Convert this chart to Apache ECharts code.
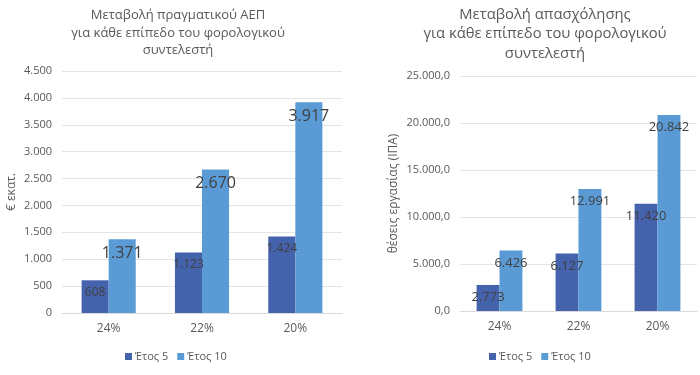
<!DOCTYPE html>
<html>
<head>
<meta charset="utf-8">
<script src="https://cdn.jsdelivr.net/npm/echarts@6/dist/echarts.min.js"></script>
<style>
  html, body { margin: 0; padding: 0; background: #fff; }
  #chart { width: 700px; height: 375px; }
</style>
</head>
<body>
<div id="chart"></div>
<script>
// data
const categories = ["24%", "22%", "20%"];
const seriesNames = ["Έτος 5", "Έτος 10"];
const gdpYear5 = [608, 1123, 1424];
const gdpYear10 = [1371, 2670, 3917];
const jobsYear5 = [2773, 6127, 11420];
const jobsYear10 = [6426, 12991, 20842];

const FONT = "Open Sans";
const DARK = "#4563ad";
const LIGHT = "#5b9bd5";
const GREY = "#595959";

// 1234 -> "1.234" (Greek grouping)
function fmtInt(v) {
  return String(Math.round(v)).replace(/\B(?=(\d{3})+(?!\d))/g, ".");
}
function fmtDec(v) {
  return fmtInt(v) + ",0";
}

const chart = echarts.init(document.getElementById("chart"));

function axisCat(gridIndex) {
  return {
    type: "category",
    gridIndex,
    data: categories,
    axisTick: { show: false },
    axisLine: { lineStyle: { color: "#d9d9d9" } },
    axisLabel: { color: GREY, fontFamily: FONT, fontSize: 12, margin: 10 },
  };
}

function axisVal(gridIndex, max, interval, formatter, name, nameGap) {
  return {
    type: "value",
    gridIndex,
    min: 0,
    max,
    interval,
    name,
    nameLocation: "middle",
    nameGap,
    nameRotate: 90,
    nameTextStyle: { color: GREY, fontFamily: FONT, fontSize: 12 },
    axisLine: { show: false },
    axisTick: { show: false },
    axisLabel: { color: GREY, fontFamily: FONT, fontSize: 11, margin: 10, formatter },
    splitLine: { lineStyle: { color: "#e4e4e4" } },
  };
}

function bar(name, data, xi, color, fontSize, distance) {
  return {
    name,
    type: "bar",
    xAxisIndex: xi,
    yAxisIndex: xi,
    data,
    barWidth: "29%",
    barGap: "0%",
    itemStyle: { color },
    label: {
      show: true,
      position: "insideTop",
      distance,
      color: "#404040",
      fontFamily: FONT,
      fontSize,
      formatter: p => fmtInt(p.value),
    },
  };
}

function legend(left) {
  return {
    data: seriesNames,
    left,
    top: 346,
    itemWidth: 7,
    itemHeight: 7,
    itemGap: 9,
    icon: "rect",
    textStyle: { color: GREY, fontFamily: FONT, fontSize: 11, padding: [0, 0, 0, -2] },
  };
}

const option = {
  animation: false,
  textStyle: { fontFamily: FONT },
  title: [
    {
      text: "Μεταβολή πραγματικού ΑΕΠ\nγια κάθε επίπεδο του φορολογικού\nσυντελεστή",
      left: 173,
      top: 2,
      textAlign: "center",
      textStyle: { color: GREY, fontFamily: FONT, fontSize: 13, fontWeight: "normal", lineHeight: 17.5 },
    },
    {
      text: "Μεταβολή απασχόλησης\nγια κάθε επίπεδο του φορολογικού\nσυντελεστή",
      left: 540,
      top: 0,
      textAlign: "center",
      textStyle: { color: GREY, fontFamily: FONT, fontSize: 14.8, fontWeight: "normal", lineHeight: 19.5 },
    },
  ],
  legend: [legend(120), legend(484)],
  grid: [
    { left: 62, right: 358, top: 71, bottom: 62 },
    { left: 460, right: 3, top: 76, bottom: 64 },
  ],
  xAxis: [axisCat(0), axisCat(1)],
  yAxis: [
    axisVal(0, 4500, 500, fmtInt, "€ εκατ.", 44),
    axisVal(1, 25000, 5000, fmtDec, "θέσεις εργασίας (ΙΠΑ)", 60),
  ],
  series: [
    bar(seriesNames[0], gdpYear5, 0, DARK, 12, 6),
    bar(seriesNames[1], gdpYear10, 0, LIGHT, 16, 6),
    bar(seriesNames[0], jobsYear5, 1, DARK, 13, 6),
    bar(seriesNames[1], jobsYear10, 1, LIGHT, 13, 6),
  ],
};

chart.setOption(option);
</script>
</body>
</html>
